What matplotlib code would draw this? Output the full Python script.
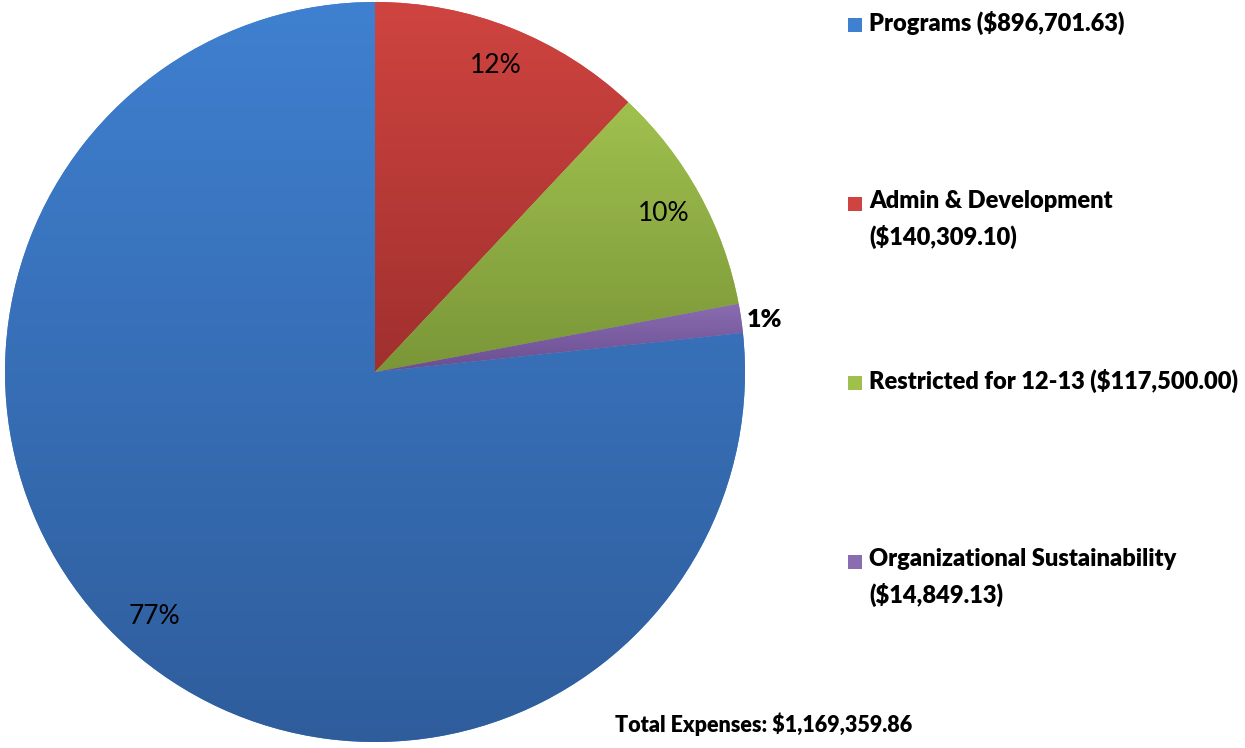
import numpy as np
import matplotlib.pyplot as plt
from matplotlib.patches import Rectangle
from matplotlib.colors import LinearSegmentedColormap

plt.rcParams['font.family'] = ['Lato', 'DejaVu Sans']

# data (pie order, clockwise from top)
labels = ['Admin & Development\n($140,309.10)', 'Restricted for 12-13 ($117,500.00)',
          'Organizational Sustainability\n($14,849.13)', 'Programs ($896,701.63)']
values = [140309.10, 117500.00, 14849.13, 896701.63]
legend_order = [3, 0, 1, 2]
total_text = 'Total Expenses: $1,169,359.86'

# light (top) / dark (bottom) shades per slice
tops = ['#cf4440', '#a0c04e', '#8a6cb0', '#3f80d0']
bottoms = ['#a0302e', '#7a9638', '#6a4e90', '#2f5d9c']

fig = plt.figure(figsize=(12.45, 7.48), dpi=100)
ax = fig.add_axes([5 / 1245, 6 / 748, 740 / 1245, 740 / 748])

wedges, texts, autotexts = ax.pie(values, startangle=90, counterclock=False,
                                  autopct='%1.0f%%', pctdistance=0.89,
                                  textprops={'fontsize': 19, 'color': 'black'})
ax.set_aspect('equal')

# vertical gradient inside each wedge
for w, t, b in zip(wedges, tops, bottoms):
    w.set_facecolor(t)
    w.set_edgecolor('none')
    ext = w.get_path().get_extents(w.get_patch_transform())
    cmap = LinearSegmentedColormap.from_list('g', [b, t])
    grad = np.linspace(0, 1, 256).reshape(-1, 1)
    im = ax.imshow(grad, cmap=cmap, origin='lower', aspect='auto',
                   extent=[ext.x0, ext.x1, ext.y0, ext.y1], zorder=2)
    im.set_clip_path(w)
ax.set_xlim(-1, 1)
ax.set_ylim(-1, 1)
for a in autotexts:
    a.set_zorder(5)

# small slice label sits outside in bold
small = autotexts[2]
ang = np.deg2rad(90 - 360 * (values[0] + values[1] + values[2] / 2) / sum(values))
small.set_position((1.065 * np.cos(ang), 1.065 * np.sin(ang) - 0.015))
small.set_fontweight('heavy')
small.set_fontsize(18)
small.set_ha('center')

# legend drawn by hand
for i, k in enumerate(legend_order):
    ytop = 1 - (11 + 179 * i) / 748
    fig.patches.append(Rectangle((848 / 1245, ytop - 21 / 748), 14 / 1245, 14 / 748,
                                 transform=fig.transFigure, facecolor=tops[k],
                                 edgecolor='none'))
    fig.text(869 / 1245, ytop, labels[k], fontsize=17, fontweight='heavy',
             va='top', ha='left', linespacing=1.62)

fig.text(615 / 1245, 1 - 724 / 748, total_text, fontsize=15.5, fontweight='heavy',
         va='center', ha='left')

fig.savefig('out.png', dpi=100)
